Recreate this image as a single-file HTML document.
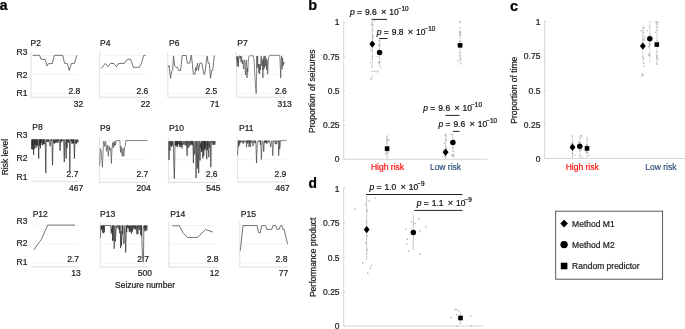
<!DOCTYPE html>
<html><head><meta charset="utf-8"><style>
html,body{margin:0;padding:0;background:#fff;}
svg{display:block;font-family:"Liberation Sans", sans-serif;will-change:transform;}
text{stroke-width:0.22px;}
</style></head><body>
<svg width="685" height="329" viewBox="0 0 685 329">
<rect width="685" height="329" fill="#fff"/>
<text x="-0.20" y="10.30" font-size="14" text-anchor="start" fill="#000" stroke="#000" font-weight="bold">a</text>
<text x="308.20" y="10.30" font-size="14.5" text-anchor="start" fill="#000" stroke="#000" font-weight="bold">b</text>
<text x="509.90" y="10.90" font-size="14.5" text-anchor="start" fill="#000" stroke="#000" font-weight="bold">c</text>
<text x="308.50" y="188.00" font-size="13.8" text-anchor="start" fill="#000" stroke="#000" font-weight="bold">d</text>
<line x1="31.10" y1="93.42" x2="78.70" y2="93.42" stroke="#f1f1f1" stroke-width="0.8"/>
<line x1="31.10" y1="74.50" x2="78.70" y2="74.50" stroke="#f1f1f1" stroke-width="0.8"/>
<line x1="31.10" y1="55.58" x2="78.70" y2="55.58" stroke="#f1f1f1" stroke-width="0.8"/>
<line x1="31.10" y1="51.80" x2="31.10" y2="97.20" stroke="#dcdcdc" stroke-width="0.9"/>
<line x1="31.10" y1="97.20" x2="78.70" y2="97.20" stroke="#d8d8d8" stroke-width="0.9"/>
<text x="30.60" y="45.60" font-size="8.5" text-anchor="start" fill="#1e1e1e" stroke="#1e1e1e">P2</text>
<text x="80.30" y="94.00" font-size="8.5" text-anchor="end" fill="#1e1e1e" stroke="#1e1e1e">2.8</text>
<text x="78.40" y="107.30" font-size="8.5" text-anchor="middle" fill="#1e1e1e" stroke="#1e1e1e">32</text>
<line x1="99.60" y1="93.42" x2="147.70" y2="93.42" stroke="#f1f1f1" stroke-width="0.8"/>
<line x1="99.60" y1="74.50" x2="147.70" y2="74.50" stroke="#f1f1f1" stroke-width="0.8"/>
<line x1="99.60" y1="55.58" x2="147.70" y2="55.58" stroke="#f1f1f1" stroke-width="0.8"/>
<line x1="99.60" y1="51.80" x2="99.60" y2="97.20" stroke="#dcdcdc" stroke-width="0.9"/>
<line x1="99.60" y1="97.20" x2="147.70" y2="97.20" stroke="#d8d8d8" stroke-width="0.9"/>
<text x="100.00" y="45.60" font-size="8.5" text-anchor="start" fill="#1e1e1e" stroke="#1e1e1e">P4</text>
<text x="148.30" y="94.00" font-size="8.5" text-anchor="end" fill="#1e1e1e" stroke="#1e1e1e">2.6</text>
<text x="145.60" y="107.30" font-size="8.5" text-anchor="middle" fill="#1e1e1e" stroke="#1e1e1e">22</text>
<line x1="167.80" y1="93.42" x2="215.90" y2="93.42" stroke="#f1f1f1" stroke-width="0.8"/>
<line x1="167.80" y1="74.50" x2="215.90" y2="74.50" stroke="#f1f1f1" stroke-width="0.8"/>
<line x1="167.80" y1="55.58" x2="215.90" y2="55.58" stroke="#f1f1f1" stroke-width="0.8"/>
<line x1="167.80" y1="51.80" x2="167.80" y2="97.20" stroke="#dcdcdc" stroke-width="0.9"/>
<line x1="167.80" y1="97.20" x2="215.90" y2="97.20" stroke="#d8d8d8" stroke-width="0.9"/>
<text x="169.00" y="45.60" font-size="8.5" text-anchor="start" fill="#1e1e1e" stroke="#1e1e1e">P6</text>
<text x="217.30" y="94.00" font-size="8.5" text-anchor="end" fill="#1e1e1e" stroke="#1e1e1e">2.5</text>
<text x="214.80" y="107.30" font-size="8.5" text-anchor="middle" fill="#1e1e1e" stroke="#1e1e1e">71</text>
<line x1="236.40" y1="93.42" x2="284.90" y2="93.42" stroke="#f1f1f1" stroke-width="0.8"/>
<line x1="236.40" y1="74.50" x2="284.90" y2="74.50" stroke="#f1f1f1" stroke-width="0.8"/>
<line x1="236.40" y1="55.58" x2="284.90" y2="55.58" stroke="#f1f1f1" stroke-width="0.8"/>
<line x1="236.40" y1="51.80" x2="236.40" y2="97.20" stroke="#dcdcdc" stroke-width="0.9"/>
<line x1="236.40" y1="97.20" x2="284.90" y2="97.20" stroke="#d8d8d8" stroke-width="0.9"/>
<text x="237.30" y="45.60" font-size="8.5" text-anchor="start" fill="#1e1e1e" stroke="#1e1e1e">P7</text>
<text x="286.80" y="94.00" font-size="8.5" text-anchor="end" fill="#1e1e1e" stroke="#1e1e1e">2.6</text>
<text x="284.60" y="107.30" font-size="8.5" text-anchor="middle" fill="#1e1e1e" stroke="#1e1e1e">313</text>
<text x="27.40" y="55.14" font-size="8.5" text-anchor="end" fill="#1e1e1e" stroke="#1e1e1e">R3</text>
<text x="27.40" y="77.64" font-size="8.5" text-anchor="end" fill="#1e1e1e" stroke="#1e1e1e">R2</text>
<text x="27.40" y="96.14" font-size="8.5" text-anchor="end" fill="#1e1e1e" stroke="#1e1e1e">R1</text>
<line x1="31.00" y1="177.52" x2="78.70" y2="177.52" stroke="#f1f1f1" stroke-width="0.8"/>
<line x1="31.00" y1="158.60" x2="78.70" y2="158.60" stroke="#f1f1f1" stroke-width="0.8"/>
<line x1="31.00" y1="139.68" x2="78.70" y2="139.68" stroke="#f1f1f1" stroke-width="0.8"/>
<line x1="31.00" y1="181.30" x2="78.70" y2="181.30" stroke="#d8d8d8" stroke-width="0.9"/>
<text x="32.30" y="130.00" font-size="8.5" text-anchor="start" fill="#1e1e1e" stroke="#1e1e1e">P8</text>
<text x="78.40" y="176.70" font-size="8.5" text-anchor="end" fill="#1e1e1e" stroke="#1e1e1e">2.7</text>
<text x="76.10" y="190.70" font-size="8.5" text-anchor="middle" fill="#1e1e1e" stroke="#1e1e1e">467</text>
<line x1="99.40" y1="178.52" x2="148.00" y2="178.52" stroke="#f1f1f1" stroke-width="0.8"/>
<line x1="99.40" y1="159.60" x2="148.00" y2="159.60" stroke="#f1f1f1" stroke-width="0.8"/>
<line x1="99.40" y1="140.68" x2="148.00" y2="140.68" stroke="#f1f1f1" stroke-width="0.8"/>
<line x1="99.40" y1="136.90" x2="99.40" y2="182.30" stroke="#dcdcdc" stroke-width="0.9"/>
<line x1="99.40" y1="182.30" x2="148.00" y2="182.30" stroke="#d8d8d8" stroke-width="0.9"/>
<text x="100.00" y="130.60" font-size="8.5" text-anchor="start" fill="#1e1e1e" stroke="#1e1e1e">P9</text>
<text x="148.30" y="176.70" font-size="8.5" text-anchor="end" fill="#1e1e1e" stroke="#1e1e1e">2.7</text>
<text x="143.60" y="190.70" font-size="8.5" text-anchor="middle" fill="#1e1e1e" stroke="#1e1e1e">204</text>
<line x1="168.40" y1="178.62" x2="216.70" y2="178.62" stroke="#f1f1f1" stroke-width="0.8"/>
<line x1="168.40" y1="159.70" x2="216.70" y2="159.70" stroke="#f1f1f1" stroke-width="0.8"/>
<line x1="168.40" y1="140.78" x2="216.70" y2="140.78" stroke="#f1f1f1" stroke-width="0.8"/>
<line x1="168.40" y1="137.00" x2="168.40" y2="182.40" stroke="#dcdcdc" stroke-width="0.9"/>
<line x1="168.40" y1="182.40" x2="216.70" y2="182.40" stroke="#d8d8d8" stroke-width="0.9"/>
<text x="168.90" y="130.50" font-size="8.5" text-anchor="start" fill="#1e1e1e" stroke="#1e1e1e">P10</text>
<text x="217.50" y="176.70" font-size="8.5" text-anchor="end" fill="#1e1e1e" stroke="#1e1e1e">2.6</text>
<text x="213.30" y="190.70" font-size="8.5" text-anchor="middle" fill="#1e1e1e" stroke="#1e1e1e">545</text>
<line x1="237.60" y1="178.12" x2="285.90" y2="178.12" stroke="#f1f1f1" stroke-width="0.8"/>
<line x1="237.60" y1="159.20" x2="285.90" y2="159.20" stroke="#f1f1f1" stroke-width="0.8"/>
<line x1="237.60" y1="140.28" x2="285.90" y2="140.28" stroke="#f1f1f1" stroke-width="0.8"/>
<line x1="237.60" y1="136.50" x2="237.60" y2="181.90" stroke="#dcdcdc" stroke-width="0.9"/>
<line x1="237.60" y1="181.90" x2="285.90" y2="181.90" stroke="#d8d8d8" stroke-width="0.9"/>
<text x="239.00" y="130.70" font-size="8.5" text-anchor="start" fill="#1e1e1e" stroke="#1e1e1e">P11</text>
<text x="286.30" y="176.70" font-size="8.5" text-anchor="end" fill="#1e1e1e" stroke="#1e1e1e">2.9</text>
<text x="282.70" y="190.70" font-size="8.5" text-anchor="middle" fill="#1e1e1e" stroke="#1e1e1e">467</text>
<text x="27.40" y="138.44" font-size="8.5" text-anchor="end" fill="#1e1e1e" stroke="#1e1e1e">R3</text>
<text x="27.40" y="160.74" font-size="8.5" text-anchor="end" fill="#1e1e1e" stroke="#1e1e1e">R2</text>
<text x="27.40" y="179.94" font-size="8.5" text-anchor="end" fill="#1e1e1e" stroke="#1e1e1e">R1</text>
<line x1="31.00" y1="263.02" x2="78.70" y2="263.02" stroke="#f1f1f1" stroke-width="0.8"/>
<line x1="31.00" y1="244.10" x2="78.70" y2="244.10" stroke="#f1f1f1" stroke-width="0.8"/>
<line x1="31.00" y1="225.18" x2="78.70" y2="225.18" stroke="#f1f1f1" stroke-width="0.8"/>
<line x1="31.00" y1="266.80" x2="78.70" y2="266.80" stroke="#d8d8d8" stroke-width="0.9"/>
<text x="32.70" y="216.60" font-size="8.5" text-anchor="start" fill="#1e1e1e" stroke="#1e1e1e">P12</text>
<text x="79.00" y="262.10" font-size="8.5" text-anchor="end" fill="#1e1e1e" stroke="#1e1e1e">2.7</text>
<text x="75.90" y="276.10" font-size="8.5" text-anchor="middle" fill="#1e1e1e" stroke="#1e1e1e">13</text>
<line x1="100.30" y1="263.22" x2="148.70" y2="263.22" stroke="#f1f1f1" stroke-width="0.8"/>
<line x1="100.30" y1="244.30" x2="148.70" y2="244.30" stroke="#f1f1f1" stroke-width="0.8"/>
<line x1="100.30" y1="225.38" x2="148.70" y2="225.38" stroke="#f1f1f1" stroke-width="0.8"/>
<line x1="100.30" y1="221.60" x2="100.30" y2="267.00" stroke="#dcdcdc" stroke-width="0.9"/>
<line x1="100.30" y1="267.00" x2="148.70" y2="267.00" stroke="#d8d8d8" stroke-width="0.9"/>
<text x="100.10" y="216.60" font-size="8.5" text-anchor="start" fill="#1e1e1e" stroke="#1e1e1e">P13</text>
<text x="149.10" y="262.10" font-size="8.5" text-anchor="end" fill="#1e1e1e" stroke="#1e1e1e">2.7</text>
<text x="144.90" y="276.10" font-size="8.5" text-anchor="middle" fill="#1e1e1e" stroke="#1e1e1e">500</text>
<line x1="168.80" y1="263.32" x2="216.70" y2="263.32" stroke="#f1f1f1" stroke-width="0.8"/>
<line x1="168.80" y1="244.40" x2="216.70" y2="244.40" stroke="#f1f1f1" stroke-width="0.8"/>
<line x1="168.80" y1="225.48" x2="216.70" y2="225.48" stroke="#f1f1f1" stroke-width="0.8"/>
<line x1="168.80" y1="221.70" x2="168.80" y2="267.10" stroke="#dcdcdc" stroke-width="0.9"/>
<line x1="168.80" y1="267.10" x2="216.70" y2="267.10" stroke="#d8d8d8" stroke-width="0.9"/>
<text x="170.20" y="216.60" font-size="8.5" text-anchor="start" fill="#1e1e1e" stroke="#1e1e1e">P14</text>
<text x="218.60" y="262.10" font-size="8.5" text-anchor="end" fill="#1e1e1e" stroke="#1e1e1e">2.8</text>
<text x="214.40" y="276.10" font-size="8.5" text-anchor="middle" fill="#1e1e1e" stroke="#1e1e1e">12</text>
<line x1="239.80" y1="263.12" x2="287.80" y2="263.12" stroke="#f1f1f1" stroke-width="0.8"/>
<line x1="239.80" y1="244.20" x2="287.80" y2="244.20" stroke="#f1f1f1" stroke-width="0.8"/>
<line x1="239.80" y1="225.28" x2="287.80" y2="225.28" stroke="#f1f1f1" stroke-width="0.8"/>
<line x1="239.80" y1="221.50" x2="239.80" y2="266.90" stroke="#dcdcdc" stroke-width="0.9"/>
<line x1="239.80" y1="266.90" x2="287.80" y2="266.90" stroke="#d8d8d8" stroke-width="0.9"/>
<text x="240.80" y="216.60" font-size="8.5" text-anchor="start" fill="#1e1e1e" stroke="#1e1e1e">P15</text>
<text x="287.40" y="262.10" font-size="8.5" text-anchor="end" fill="#1e1e1e" stroke="#1e1e1e">2.8</text>
<text x="283.50" y="276.10" font-size="8.5" text-anchor="middle" fill="#1e1e1e" stroke="#1e1e1e">77</text>
<text x="27.40" y="223.94" font-size="8.5" text-anchor="end" fill="#1e1e1e" stroke="#1e1e1e">R3</text>
<text x="27.40" y="246.34" font-size="8.5" text-anchor="end" fill="#1e1e1e" stroke="#1e1e1e">R2</text>
<text x="27.40" y="265.34" font-size="8.5" text-anchor="end" fill="#1e1e1e" stroke="#1e1e1e">R1</text>
<text x="145.00" y="288.20" font-size="8.5" text-anchor="middle" fill="#1e1e1e" stroke="#1e1e1e">Seizure number</text>
<text x="0" y="0" font-size="8.5" fill="#1e1e1e" stroke="#1e1e1e" text-anchor="middle" transform="translate(7.8,157.1) rotate(-90)">Risk level</text>
<polyline points="32.70,55.30 39.50,55.30 41.00,59.10 45.20,59.50 47.10,66.00 48.30,63.70 52.40,63.50 54.30,55.30 62.70,55.30 64.60,63.30 67.30,63.50 69.20,70.50 71.40,63.50 74.50,63.30 76.80,55.30" fill="none" stroke="#5a5a5a" stroke-width="0.85" stroke-linejoin="round"/>
<polyline points="101.40,68.30 105.20,63.50 107.90,66.60 110.20,63.50 114.00,63.50 116.60,66.90 118.50,63.50 124.60,63.30 127.30,59.30 130.70,59.30 133.40,67.30 139.40,67.30 141.70,62.50 143.60,55.50 145.50,55.30" fill="none" stroke="#5a5a5a" stroke-width="0.85" stroke-linejoin="round"/>
<polyline points="168.00,67.30 169.20,65.50 170.60,78.30 171.50,71.40 172.60,70.50 173.50,55.90 174.70,66.00 175.60,66.90 177.40,67.30 178.80,70.50 180.60,70.50 182.20,55.50 186.10,55.50 187.40,63.20 189.70,63.20 191.40,55.00 193.40,74.20 195.00,74.20 195.70,67.30 196.30,70.50 197.50,63.20 198.40,70.50 199.80,63.20 201.80,63.20 203.90,74.20 204.80,74.20 206.10,63.20 207.20,55.90 208.20,63.20 209.30,63.20 210.50,78.30 211.60,70.50 212.70,70.50 214.40,55.50" fill="none" stroke="#5a5a5a" stroke-width="0.85" stroke-linejoin="round"/>
<polyline points="34.10,249.90 37.00,245.30 41.40,239.40 47.70,225.10 75.00,225.10" fill="none" stroke="#5a5a5a" stroke-width="0.85" stroke-linejoin="round"/>
<polyline points="172.30,225.80 179.30,225.80 182.90,232.70 187.30,237.40 197.70,237.40 205.60,229.40 212.80,232.10" fill="none" stroke="#5a5a5a" stroke-width="0.85" stroke-linejoin="round"/>
<polyline points="240.30,250.70 243.00,225.60 257.20,225.60 258.60,232.70 260.20,233.00 261.60,225.60 265.60,225.60 266.70,229.40 271.80,229.40 272.90,225.60 275.80,225.60 277.20,229.40 279.10,229.40 280.50,225.60 281.80,225.60 282.90,229.40 284.20,229.40 287.50,244.10" fill="none" stroke="#5a5a5a" stroke-width="0.85" stroke-linejoin="round"/>
<polyline points="236.70,60.00 236.90,56.00 237.20,66.50 237.50,56.50 237.80,63.00 238.10,58.00 238.50,66.90 238.80,56.00 239.60,56.00 240.00,58.50 240.50,56.00 241.10,62.20 241.60,56.50 242.30,64.00 242.80,60.00 243.50,69.00 244.10,62.00 244.70,59.70 245.20,72.00 245.60,75.00 246.00,63.00 246.50,60.00 247.00,78.00 247.40,68.00 247.80,72.40 248.30,61.00 248.80,57.00 249.40,55.80 253.30,55.80 253.90,58.50 254.40,66.00 254.90,76.00 255.40,84.00 255.90,90.00 256.20,93.60 256.50,78.00 256.80,56.00 257.20,68.00 257.60,56.00 258.00,66.00 258.40,64.00 258.80,73.00 259.20,65.00 259.60,74.00 260.00,64.00 260.40,70.00 260.80,58.00 261.30,56.00 261.80,66.00 262.30,60.00 262.90,78.00 263.30,58.00 263.70,70.00 264.10,56.00 264.60,68.00 265.10,56.00 265.60,66.00 266.10,58.00 266.60,70.00 267.10,60.00 267.70,74.00 268.20,60.00 268.80,57.00 269.70,55.30 279.70,55.30 280.10,62.00 280.70,78.00 281.20,62.00 281.60,56.00 282.10,69.40 282.60,58.00 283.10,66.00 283.70,62.00 284.10,64.00" fill="none" stroke="#444" stroke-width="0.65" stroke-linejoin="round"/>
<polyline points="31.40,139.45 31.40,139.56 31.80,149.00 32.23,139.53 32.33,149.55 32.59,139.47 32.68,142.46 32.84,144.83 33.05,139.59 33.19,139.31 33.60,154.80 33.91,139.64 34.21,148.97 34.29,141.27 34.46,139.62 34.61,139.59 34.85,145.68 34.90,139.32 34.93,142.76 35.29,144.16 35.36,139.32 35.63,139.57 36.00,148.00 36.32,139.64 36.39,139.31 36.65,142.98 36.73,145.53 37.10,139.35 37.15,139.52 37.54,141.17 37.56,145.90 37.84,139.64 38.04,139.58 38.26,145.56 38.70,158.50 39.24,139.50 39.34,141.35 39.61,145.56 39.83,139.64 39.86,139.32 40.19,141.24 40.30,139.46 40.31,148.33 40.61,139.66 40.63,139.46 40.81,144.89 40.97,143.92 41.07,142.28 41.22,139.39 41.44,139.31 41.57,142.65 41.75,142.18 41.93,139.36 42.21,139.47 42.43,145.27 42.67,142.42 42.99,139.45 43.16,139.56 43.46,144.37 43.52,141.22 43.81,139.32 43.91,139.33 44.30,143.42 44.51,144.15 44.76,139.34 45.20,141.18 45.80,173.10 46.15,142.63 46.53,139.64 47.04,141.53 47.43,139.59 47.87,142.03 48.26,139.69 48.60,141.43 49.05,139.41 49.54,141.78 50.00,146.30 50.54,143.05 50.99,139.39 51.31,140.89 51.64,139.57 51.93,141.51 52.50,165.20 53.15,139.35 53.67,142.60 54.12,139.52 54.52,143.71 55.01,139.63 55.30,142.57 55.81,139.56 56.21,142.75 56.53,139.59 57.00,141.02 57.40,139.54 57.77,142.85 58.27,139.66 58.62,141.26 59.11,139.54 59.59,143.41 60.10,150.60 60.73,139.40 61.13,142.58 61.47,139.37 61.86,141.02 62.26,139.68 62.74,140.96 63.22,139.59 63.67,140.88 64.30,162.10 64.60,141.77 64.97,139.37 65.46,141.47 66.20,158.50 66.67,139.31 67.10,148.20 67.43,139.61 67.89,141.96 68.21,139.51 68.63,142.87 69.03,139.53 69.49,141.37 69.80,171.20 70.27,143.21 70.75,139.48 71.21,141.12 71.58,139.33 72.06,143.80 72.50,139.60 72.87,143.18 73.17,139.45 73.53,143.39 73.86,139.36 74.40,158.50 74.87,143.31 75.19,139.66 75.71,143.44 76.15,139.66 76.65,143.69 77.00,139.64 77.47,141.84 77.79,139.66 78.18,142.39" fill="none" stroke="#2a2a2a" stroke-width="0.7" stroke-linejoin="round"/>
<polyline points="99.60,165.60 100.40,148.60 101.20,151.30 102.40,167.20 103.50,141.50 104.00,141.50 104.60,146.40 105.10,141.50 105.70,141.50 106.50,151.30 107.30,145.00 108.40,156.30 109.00,146.00 109.80,150.20 110.60,148.00 111.40,163.40 112.00,148.00 112.80,142.60 113.30,148.00 113.90,141.50 114.40,146.00 115.00,141.50 115.50,145.00 116.10,141.50 116.60,140.60 119.90,140.60 120.50,152.40 121.00,146.00 121.60,152.40 122.30,156.30 123.00,148.00 123.80,156.30 124.50,148.00 125.40,144.80 125.90,140.60 147.40,140.60" fill="none" stroke="#444" stroke-width="0.65" stroke-linejoin="round"/>
<polyline points="168.60,141.10 168.60,141.39 169.00,159.80 169.46,141.38 169.70,141.09 169.93,150.89 170.21,144.78 170.33,141.40 170.68,141.39 170.81,145.37 171.25,143.64 171.26,141.25 171.62,146.90 171.79,141.23 171.97,141.03 172.25,144.99 172.37,145.73 172.72,141.39 172.81,141.31 173.33,142.09 173.90,167.80 174.30,178.60 174.60,170.00 175.00,141.25 175.00,141.39 175.41,145.61 175.47,144.78 175.82,141.31 175.86,145.47 176.05,141.08 176.34,145.31 176.62,143.31 176.65,141.37 176.67,141.15 176.97,146.54 177.23,141.19 177.36,146.96 177.49,141.08 177.85,144.96 177.95,144.16 178.16,141.34 178.44,141.33 178.45,141.22 178.66,143.91 178.82,143.17 179.04,143.78 179.14,141.36 179.44,141.39 179.47,146.38 179.57,141.30 179.88,141.18 179.93,142.05 180.17,147.01 180.33,143.69 180.41,141.17 180.73,141.14 180.77,141.03 180.82,144.88 181.10,146.71 181.21,141.36 181.41,144.24 181.43,141.05 182.00,148.40 182.53,143.00 182.56,144.29 182.72,144.72 182.95,141.00 183.11,141.39 183.48,141.39 183.71,144.36 184.00,144.50 184.36,141.37 184.53,141.27 184.90,143.62 185.19,145.37 185.41,141.33 185.78,141.31 186.04,144.49 186.59,145.42 186.64,141.01 187.10,155.80 187.43,141.09 187.64,141.23 188.06,148.17 188.16,144.57 188.57,141.29 188.65,141.06 189.10,142.64 189.15,146.63 189.74,141.02 189.99,141.02 190.23,143.61 190.68,145.14 190.76,141.39 191.28,144.66 191.30,141.09 191.72,141.19 191.96,143.76 192.00,141.04 192.11,143.92 192.51,145.20 192.59,141.31 192.83,141.08 192.97,141.34 192.97,143.39 193.40,163.10 193.79,141.29 194.16,144.03 194.30,149.30 194.70,154.40 195.09,149.75 195.22,144.88 195.47,141.21 195.66,141.28 196.00,177.90 196.64,148.56 196.70,141.01 197.40,168.50 197.87,141.39 197.92,141.08 198.38,147.28 198.70,173.20 199.04,151.47 199.06,141.15 199.39,141.14 199.51,143.71 200.00,160.50 200.57,143.23 200.62,147.52 200.97,141.05 201.14,141.13 201.40,141.37 201.60,152.12 201.67,142.02 201.84,141.38 202.06,141.35 202.08,150.91 202.34,141.15 202.70,158.40 203.26,152.04 203.29,142.15 203.52,141.22 203.72,141.37 203.77,156.24 203.99,141.06 204.30,142.01 204.31,148.87 204.53,141.18 204.84,150.14 204.94,141.03 205.02,141.11 205.23,146.23 205.43,143.60 205.53,141.29 205.73,148.67 206.02,141.06 206.05,141.28 206.29,152.37 206.80,159.10 207.13,141.09 207.19,141.37 207.36,150.33 207.60,141.36 207.71,142.01 207.83,146.21 208.13,141.37 208.26,141.17 208.43,149.24 208.80,157.10 209.21,141.23 209.34,147.76 209.76,144.78 210.29,141.25 210.80,167.20 211.48,141.23 212.02,142.46 212.53,141.16 212.94,144.82 213.54,141.18 213.92,144.95 214.30,141.20 214.82,144.57 215.37,141.24" fill="none" stroke="#2a2a2a" stroke-width="0.66" stroke-linejoin="round"/>
<polyline points="237.60,155.20 237.90,148.00 238.30,140.70 238.30,140.87 238.66,146.90 238.92,143.73 239.04,140.69 239.46,140.63 239.60,144.75 240.05,140.56 240.13,142.76 240.67,140.66 241.21,141.80 241.86,140.86 242.53,143.20 243.07,140.67 243.54,143.49 244.07,140.62 244.84,142.32 245.61,140.75 246.00,140.68 246.31,143.18 246.53,147.14 246.79,140.79 247.12,140.53 247.31,142.52 247.77,140.52 247.81,143.80 248.30,140.53 248.33,141.34 248.88,140.84 248.95,146.87 249.59,140.59 249.66,142.57 250.12,140.64 250.31,146.99 250.57,141.95 250.85,140.61 251.21,140.75 251.64,142.76 252.21,140.66 252.90,146.10 253.79,143.19 253.80,140.69 254.23,142.51 254.36,140.88 254.73,140.51 254.91,141.91 255.25,143.26 255.47,140.87 255.94,143.59 256.50,163.00 257.29,142.65 258.02,140.78 258.73,141.83 259.37,140.80 259.88,141.92 260.00,140.53 260.38,144.83 260.60,140.73 260.77,140.60 261.40,159.40 262.14,142.51 262.61,140.86 263.37,143.07 263.70,151.60 264.30,142.41 264.34,140.71 264.75,142.45 264.77,140.70 265.18,140.86 265.22,142.14 265.48,143.07 265.72,140.69 265.82,140.76 266.25,141.63 266.48,143.04 266.56,140.71 267.04,143.73 267.18,140.79 267.79,141.50 268.23,140.55 268.84,142.32 269.59,140.58 270.06,143.22 270.60,147.00 271.24,142.63 271.96,140.81 272.80,155.70 273.45,140.69 273.97,141.72 274.69,140.76 275.33,144.23 275.98,140.62 276.65,144.08 277.14,140.88 277.71,141.64 278.20,140.53 278.31,140.81 278.70,155.70 279.25,140.88 279.60,140.54 279.73,149.09 280.26,142.39 280.36,140.58 280.90,140.70 282.14,140.68 283.36,140.54 284.64,140.52 285.97,140.71 286.40,140.50" fill="none" stroke="#333" stroke-width="0.62" stroke-linejoin="round"/>
<polyline points="100.40,237.80 101.01,225.73 101.40,229.85 101.64,225.42 101.89,228.53 102.22,225.55 102.58,232.58 102.85,225.47 103.13,228.57 103.45,225.48 103.69,233.29 103.98,225.78 104.36,232.05 104.50,225.43 107.67,225.60 110.39,225.62 110.50,225.51 111.20,233.50 111.84,228.73 111.85,231.65 112.12,225.52 112.21,225.44 112.55,240.67 112.59,229.91 112.87,225.58 112.91,225.54 113.21,240.57 113.34,228.89 113.55,225.53 113.77,225.74 114.20,248.70 114.67,235.22 114.71,225.75 115.12,225.57 115.26,228.49 115.42,241.35 116.00,231.10 116.36,227.43 116.73,225.72 117.12,227.63 117.45,225.70 117.83,227.17 118.31,225.43 118.50,225.58 118.84,226.77 118.84,229.73 119.24,225.67 119.41,225.45 119.63,233.18 119.77,228.48 120.02,225.75 120.29,225.59 120.60,248.10 121.10,231.41 121.50,245.70 122.07,225.41 122.19,225.42 122.52,233.98 122.70,226.80 122.86,225.67 123.12,225.54 123.13,236.42 123.60,243.90 124.20,243.00 124.60,227.75 125.02,225.50 125.70,252.50 126.50,225.73 126.53,230.44 126.80,232.02 126.99,225.62 127.26,225.50 127.32,227.38 127.64,227.57 127.65,225.44 127.96,225.66 128.16,227.29 128.42,228.34 128.66,225.71 128.87,225.55 129.09,229.46 129.28,231.57 129.57,225.65 129.62,225.47 130.00,232.29 130.04,229.30 130.38,225.74 130.40,225.80 130.70,231.17 130.77,227.00 131.15,225.73 131.18,225.55 131.60,233.60 132.08,225.55 132.25,231.77 132.59,225.77 132.60,226.89 132.91,229.90 133.02,225.63 133.41,227.75 133.85,225.45 134.41,228.52 134.77,225.60 135.18,229.26 135.50,225.46 135.52,225.55 135.85,229.08 135.86,229.54 136.20,225.68 136.30,225.72 136.52,230.86 136.90,234.20 137.25,230.56 137.27,225.53 137.62,225.73 137.73,228.14 137.99,234.12 138.16,225.57 138.48,227.30 138.95,225.45 139.36,230.04 139.81,225.71 140.21,226.40 140.30,225.55 140.65,225.70 140.74,234.60 141.05,225.57 141.09,228.02 141.35,236.22 141.64,225.55 141.77,225.60 142.03,244.95 142.40,255.00 143.00,261.00 143.50,258.00 143.90,225.72 144.08,229.09 144.21,229.08 144.61,225.70 144.63,225.45 144.98,231.31 145.08,228.79 145.35,225.46 145.46,225.44 145.73,230.90 145.91,228.63 146.15,225.41 146.32,225.60 146.60,228.61 146.87,230.28 147.43,225.45" fill="none" stroke="#2a2a2a" stroke-width="0.66" stroke-linejoin="round"/>
<line x1="343.70" y1="21.10" x2="343.70" y2="159.30" stroke="#d2d2d2" stroke-width="0.9"/>
<line x1="343.70" y1="159.30" x2="487.60" y2="159.30" stroke="#d2d2d2" stroke-width="0.9"/>
<line x1="343.70" y1="22.30" x2="345.30" y2="22.30" stroke="#c8c8c8" stroke-width="0.8"/>
<text x="339.60" y="25.34" font-size="8.5" text-anchor="end" fill="#1e1e1e" stroke="#1e1e1e">1</text>
<line x1="343.70" y1="56.80" x2="345.30" y2="56.80" stroke="#c8c8c8" stroke-width="0.8"/>
<text x="339.60" y="59.84" font-size="8.5" text-anchor="end" fill="#1e1e1e" stroke="#1e1e1e">0.75</text>
<line x1="343.70" y1="90.70" x2="345.30" y2="90.70" stroke="#c8c8c8" stroke-width="0.8"/>
<text x="339.60" y="93.74" font-size="8.5" text-anchor="end" fill="#1e1e1e" stroke="#1e1e1e">0.5</text>
<line x1="343.70" y1="125.40" x2="345.30" y2="125.40" stroke="#c8c8c8" stroke-width="0.8"/>
<text x="339.60" y="128.44" font-size="8.5" text-anchor="end" fill="#1e1e1e" stroke="#1e1e1e">0.25</text>
<line x1="343.70" y1="159.30" x2="345.30" y2="159.30" stroke="#c8c8c8" stroke-width="0.8"/>
<text x="339.60" y="162.34" font-size="8.5" text-anchor="end" fill="#1e1e1e" stroke="#1e1e1e">0</text>
<text x="0" y="0" font-size="8.6" fill="#1e1e1e" stroke="#1e1e1e" text-anchor="middle" transform="translate(315.4,91.3) rotate(-90)">Proportion of seizures</text>
<text x="387.50" y="170.40" font-size="8.5" text-anchor="middle" fill="#ff1414" stroke="#ff1414">High risk</text>
<text x="445.50" y="170.40" font-size="8.5" text-anchor="middle" fill="#36557f" stroke="#36557f">Low risk</text>
<line x1="372.30" y1="19.50" x2="372.30" y2="67.00" stroke="#cdcdcd" stroke-width="0.9"/>
<line x1="379.60" y1="38.30" x2="379.60" y2="66.00" stroke="#cdcdcd" stroke-width="0.9"/>
<line x1="387.10" y1="134.70" x2="387.10" y2="157.00" stroke="#cdcdcd" stroke-width="0.9"/>
<line x1="445.60" y1="133.00" x2="445.60" y2="159.00" stroke="#cdcdcd" stroke-width="0.9"/>
<line x1="452.90" y1="134.00" x2="452.90" y2="152.00" stroke="#cdcdcd" stroke-width="0.9"/>
<line x1="460.10" y1="29.60" x2="460.10" y2="63.40" stroke="#cdcdcd" stroke-width="0.9"/>
<rect x="371.61" y="75.85" width="1.2" height="1.2" fill="#b0b0b0"/>
<rect x="371.64" y="55.64" width="1.2" height="1.2" fill="#b0b0b0"/>
<rect x="371.13" y="58.19" width="1.2" height="1.2" fill="#b0b0b0"/>
<rect x="372.23" y="38.60" width="1.2" height="1.2" fill="#b0b0b0"/>
<rect x="369.74" y="62.01" width="1.2" height="1.2" fill="#b0b0b0"/>
<rect x="369.50" y="78.29" width="1.2" height="1.2" fill="#b0b0b0"/>
<rect x="371.98" y="29.85" width="1.2" height="1.2" fill="#b0b0b0"/>
<rect x="370.83" y="23.97" width="1.2" height="1.2" fill="#b0b0b0"/>
<rect x="371.14" y="22.20" width="1.2" height="1.2" fill="#b0b0b0"/>
<rect x="371.64" y="70.95" width="1.2" height="1.2" fill="#b0b0b0"/>
<rect x="371.73" y="50.39" width="1.2" height="1.2" fill="#b0b0b0"/>
<rect x="371.99" y="37.09" width="1.2" height="1.2" fill="#b0b0b0"/>
<rect x="374.09" y="70.81" width="1.2" height="1.2" fill="#b0b0b0"/>
<rect x="372.07" y="34.18" width="1.2" height="1.2" fill="#b0b0b0"/>
<rect x="371.32" y="66.38" width="1.2" height="1.2" fill="#b0b0b0"/>
<rect x="371.22" y="43.59" width="1.2" height="1.2" fill="#b0b0b0"/>
<rect x="373.90" y="20.43" width="1.2" height="1.2" fill="#b0b0b0"/>
<rect x="370.31" y="48.60" width="1.2" height="1.2" fill="#b0b0b0"/>
<rect x="372.56" y="24.78" width="1.2" height="1.2" fill="#b0b0b0"/>
<rect x="372.32" y="36.59" width="1.2" height="1.2" fill="#b0b0b0"/>
<rect x="370.96" y="78.24" width="1.2" height="1.2" fill="#b0b0b0"/>
<rect x="372.16" y="35.18" width="1.2" height="1.2" fill="#b0b0b0"/>
<rect x="378.95" y="61.39" width="1.2" height="1.2" fill="#b0b0b0"/>
<rect x="378.36" y="51.77" width="1.2" height="1.2" fill="#b0b0b0"/>
<rect x="377.92" y="62.19" width="1.2" height="1.2" fill="#b0b0b0"/>
<rect x="379.18" y="61.22" width="1.2" height="1.2" fill="#b0b0b0"/>
<rect x="378.36" y="44.75" width="1.2" height="1.2" fill="#b0b0b0"/>
<rect x="379.73" y="66.42" width="1.2" height="1.2" fill="#b0b0b0"/>
<rect x="378.23" y="50.52" width="1.2" height="1.2" fill="#b0b0b0"/>
<rect x="378.54" y="40.01" width="1.2" height="1.2" fill="#b0b0b0"/>
<rect x="376.89" y="56.19" width="1.2" height="1.2" fill="#b0b0b0"/>
<rect x="377.04" y="70.64" width="1.2" height="1.2" fill="#b0b0b0"/>
<rect x="378.30" y="43.86" width="1.2" height="1.2" fill="#b0b0b0"/>
<rect x="378.66" y="44.80" width="1.2" height="1.2" fill="#b0b0b0"/>
<rect x="379.35" y="45.05" width="1.2" height="1.2" fill="#b0b0b0"/>
<rect x="379.57" y="53.22" width="1.2" height="1.2" fill="#b0b0b0"/>
<rect x="379.17" y="52.09" width="1.2" height="1.2" fill="#b0b0b0"/>
<rect x="376.75" y="71.33" width="1.2" height="1.2" fill="#b0b0b0"/>
<rect x="379.86" y="51.16" width="1.2" height="1.2" fill="#b0b0b0"/>
<rect x="378.75" y="61.63" width="1.2" height="1.2" fill="#b0b0b0"/>
<rect x="386.07" y="149.82" width="1.2" height="1.2" fill="#b0b0b0"/>
<rect x="387.13" y="138.93" width="1.2" height="1.2" fill="#b0b0b0"/>
<rect x="385.86" y="151.02" width="1.2" height="1.2" fill="#b0b0b0"/>
<rect x="385.83" y="138.53" width="1.2" height="1.2" fill="#b0b0b0"/>
<rect x="386.13" y="153.50" width="1.2" height="1.2" fill="#b0b0b0"/>
<rect x="386.70" y="140.02" width="1.2" height="1.2" fill="#b0b0b0"/>
<rect x="384.80" y="152.83" width="1.2" height="1.2" fill="#b0b0b0"/>
<rect x="387.97" y="151.27" width="1.2" height="1.2" fill="#b0b0b0"/>
<rect x="388.66" y="139.56" width="1.2" height="1.2" fill="#b0b0b0"/>
<rect x="387.13" y="151.52" width="1.2" height="1.2" fill="#b0b0b0"/>
<rect x="386.62" y="142.14" width="1.2" height="1.2" fill="#b0b0b0"/>
<rect x="386.37" y="136.22" width="1.2" height="1.2" fill="#b0b0b0"/>
<rect x="443.11" y="149.35" width="1.2" height="1.2" fill="#b0b0b0"/>
<rect x="445.79" y="139.05" width="1.2" height="1.2" fill="#b0b0b0"/>
<rect x="445.42" y="140.28" width="1.2" height="1.2" fill="#b0b0b0"/>
<rect x="445.33" y="152.62" width="1.2" height="1.2" fill="#b0b0b0"/>
<rect x="444.31" y="155.84" width="1.2" height="1.2" fill="#b0b0b0"/>
<rect x="444.74" y="153.31" width="1.2" height="1.2" fill="#b0b0b0"/>
<rect x="445.24" y="146.73" width="1.2" height="1.2" fill="#b0b0b0"/>
<rect x="445.30" y="149.34" width="1.2" height="1.2" fill="#b0b0b0"/>
<rect x="444.32" y="134.56" width="1.2" height="1.2" fill="#b0b0b0"/>
<rect x="443.58" y="142.90" width="1.2" height="1.2" fill="#b0b0b0"/>
<rect x="445.88" y="148.20" width="1.2" height="1.2" fill="#b0b0b0"/>
<rect x="445.67" y="135.30" width="1.2" height="1.2" fill="#b0b0b0"/>
<rect x="453.14" y="151.06" width="1.2" height="1.2" fill="#b0b0b0"/>
<rect x="450.66" y="133.81" width="1.2" height="1.2" fill="#b0b0b0"/>
<rect x="452.98" y="153.98" width="1.2" height="1.2" fill="#b0b0b0"/>
<rect x="453.20" y="141.51" width="1.2" height="1.2" fill="#b0b0b0"/>
<rect x="452.67" y="139.72" width="1.2" height="1.2" fill="#b0b0b0"/>
<rect x="451.00" y="154.39" width="1.2" height="1.2" fill="#b0b0b0"/>
<rect x="452.84" y="155.60" width="1.2" height="1.2" fill="#b0b0b0"/>
<rect x="452.32" y="144.33" width="1.2" height="1.2" fill="#b0b0b0"/>
<rect x="452.16" y="146.95" width="1.2" height="1.2" fill="#b0b0b0"/>
<rect x="452.05" y="155.73" width="1.2" height="1.2" fill="#b0b0b0"/>
<rect x="452.56" y="154.13" width="1.2" height="1.2" fill="#b0b0b0"/>
<rect x="453.19" y="156.08" width="1.2" height="1.2" fill="#b0b0b0"/>
<rect x="459.25" y="40.41" width="1.2" height="1.2" fill="#b0b0b0"/>
<rect x="459.40" y="51.97" width="1.2" height="1.2" fill="#b0b0b0"/>
<rect x="459.07" y="20.89" width="1.2" height="1.2" fill="#b0b0b0"/>
<rect x="459.14" y="27.21" width="1.2" height="1.2" fill="#b0b0b0"/>
<rect x="459.94" y="58.28" width="1.2" height="1.2" fill="#b0b0b0"/>
<rect x="460.32" y="63.29" width="1.2" height="1.2" fill="#b0b0b0"/>
<rect x="460.05" y="21.71" width="1.2" height="1.2" fill="#b0b0b0"/>
<rect x="459.42" y="34.62" width="1.2" height="1.2" fill="#b0b0b0"/>
<rect x="459.00" y="32.80" width="1.2" height="1.2" fill="#b0b0b0"/>
<rect x="460.02" y="40.71" width="1.2" height="1.2" fill="#b0b0b0"/>
<rect x="460.19" y="34.47" width="1.2" height="1.2" fill="#b0b0b0"/>
<rect x="457.31" y="60.36" width="1.2" height="1.2" fill="#b0b0b0"/>
<rect x="460.02" y="31.67" width="1.2" height="1.2" fill="#b0b0b0"/>
<rect x="458.88" y="42.52" width="1.2" height="1.2" fill="#b0b0b0"/>
<rect x="458.72" y="55.34" width="1.2" height="1.2" fill="#b0b0b0"/>
<rect x="457.16" y="43.99" width="1.2" height="1.2" fill="#b0b0b0"/>
<rect x="460.25" y="58.60" width="1.2" height="1.2" fill="#b0b0b0"/>
<rect x="459.42" y="44.36" width="1.2" height="1.2" fill="#b0b0b0"/>
<rect x="458.64" y="31.55" width="1.2" height="1.2" fill="#b0b0b0"/>
<rect x="459.33" y="46.28" width="1.2" height="1.2" fill="#b0b0b0"/>
<line x1="387.60" y1="157.20" x2="387.60" y2="159.30" stroke="#bbb" stroke-width="0.8"/>
<line x1="445.40" y1="157.20" x2="445.40" y2="159.30" stroke="#bbb" stroke-width="0.8"/>
<line x1="371.60" y1="19.40" x2="387.10" y2="19.40" stroke="#222" stroke-width="1.0"/>
<line x1="379.20" y1="38.50" x2="387.50" y2="38.50" stroke="#222" stroke-width="1.0"/>
<line x1="445.40" y1="115.40" x2="459.50" y2="115.40" stroke="#222" stroke-width="1.0"/>
<line x1="452.90" y1="131.40" x2="459.50" y2="131.40" stroke="#222" stroke-width="1.0"/>
<text x="349.90" y="14.60" font-size="8.5" text-anchor="start" fill="#111" stroke="#111" font-style="italic">p</text>
<text x="356.90" y="14.60" font-size="8.5" text-anchor="start" fill="#111" stroke="#111">=</text>
<text x="364.90" y="14.60" font-size="8.5" text-anchor="start" fill="#111" stroke="#111">9.6</text>
<text x="380.90" y="14.60" font-size="9.3" text-anchor="start" fill="#111" stroke="#111">×</text>
<text x="389.20" y="14.60" font-size="8.5" text-anchor="start" fill="#111" stroke="#111">10</text>
<text x="397.70" y="10.90" font-size="6.4" text-anchor="start" fill="#111" stroke="#111">−10</text>
<text x="376.70" y="34.50" font-size="8.5" text-anchor="start" fill="#111" stroke="#111" font-style="italic">p</text>
<text x="383.70" y="34.50" font-size="8.5" text-anchor="start" fill="#111" stroke="#111">=</text>
<text x="391.70" y="34.50" font-size="8.5" text-anchor="start" fill="#111" stroke="#111">9.8</text>
<text x="407.70" y="34.50" font-size="9.3" text-anchor="start" fill="#111" stroke="#111">×</text>
<text x="416.00" y="34.50" font-size="8.5" text-anchor="start" fill="#111" stroke="#111">10</text>
<text x="424.50" y="30.80" font-size="6.4" text-anchor="start" fill="#111" stroke="#111">−10</text>
<text x="423.30" y="111.00" font-size="8.5" text-anchor="start" fill="#111" stroke="#111" font-style="italic">p</text>
<text x="430.30" y="111.00" font-size="8.5" text-anchor="start" fill="#111" stroke="#111">=</text>
<text x="438.30" y="111.00" font-size="8.5" text-anchor="start" fill="#111" stroke="#111">9.6</text>
<text x="454.30" y="111.00" font-size="9.3" text-anchor="start" fill="#111" stroke="#111">×</text>
<text x="462.60" y="111.00" font-size="8.5" text-anchor="start" fill="#111" stroke="#111">10</text>
<text x="471.10" y="107.30" font-size="6.4" text-anchor="start" fill="#111" stroke="#111">−10</text>
<text x="438.40" y="127.00" font-size="8.5" text-anchor="start" fill="#111" stroke="#111" font-style="italic">p</text>
<text x="445.40" y="127.00" font-size="8.5" text-anchor="start" fill="#111" stroke="#111">=</text>
<text x="453.40" y="127.00" font-size="8.5" text-anchor="start" fill="#111" stroke="#111">9.6</text>
<text x="469.40" y="127.00" font-size="9.3" text-anchor="start" fill="#111" stroke="#111">×</text>
<text x="477.70" y="127.00" font-size="8.5" text-anchor="start" fill="#111" stroke="#111">10</text>
<text x="486.20" y="123.30" font-size="6.4" text-anchor="start" fill="#111" stroke="#111">−10</text>
<path d="M372.30 40.40 L375.25 44.10 L372.30 47.80 L369.35 44.10Z" fill="#000"/>
<circle cx="379.60" cy="52.40" r="2.75" fill="#000"/>
<rect x="384.80" y="146.30" width="4.6" height="4.6" fill="#000"/>
<path d="M445.60 148.60 L448.55 152.30 L445.60 156.00 L442.65 152.30Z" fill="#000"/>
<circle cx="452.90" cy="142.40" r="2.75" fill="#000"/>
<rect x="457.80" y="43.00" width="4.6" height="4.6" fill="#000"/>
<line x1="544.60" y1="21.30" x2="544.60" y2="158.50" stroke="#d2d2d2" stroke-width="0.9"/>
<line x1="544.60" y1="158.50" x2="685.00" y2="158.50" stroke="#d2d2d2" stroke-width="0.9"/>
<line x1="544.60" y1="21.50" x2="546.20" y2="21.50" stroke="#c8c8c8" stroke-width="0.8"/>
<text x="540.40" y="24.54" font-size="8.5" text-anchor="end" fill="#1e1e1e" stroke="#1e1e1e">1</text>
<line x1="544.60" y1="56.10" x2="546.20" y2="56.10" stroke="#c8c8c8" stroke-width="0.8"/>
<text x="540.40" y="59.14" font-size="8.5" text-anchor="end" fill="#1e1e1e" stroke="#1e1e1e">0.75</text>
<line x1="544.60" y1="90.60" x2="546.20" y2="90.60" stroke="#c8c8c8" stroke-width="0.8"/>
<text x="540.40" y="93.64" font-size="8.5" text-anchor="end" fill="#1e1e1e" stroke="#1e1e1e">0.5</text>
<line x1="544.60" y1="124.70" x2="546.20" y2="124.70" stroke="#c8c8c8" stroke-width="0.8"/>
<text x="540.40" y="127.74" font-size="8.5" text-anchor="end" fill="#1e1e1e" stroke="#1e1e1e">0.25</text>
<line x1="544.60" y1="158.70" x2="546.20" y2="158.70" stroke="#c8c8c8" stroke-width="0.8"/>
<text x="540.40" y="161.74" font-size="8.5" text-anchor="end" fill="#1e1e1e" stroke="#1e1e1e">0</text>
<text x="0" y="0" font-size="8.5" fill="#1e1e1e" stroke="#1e1e1e" text-anchor="middle" transform="translate(517.0,90.2) rotate(-90)">Proportion of time</text>
<text x="582.20" y="169.60" font-size="8.5" text-anchor="middle" fill="#ff1414" stroke="#ff1414">High risk</text>
<text x="660.90" y="169.60" font-size="8.5" text-anchor="middle" fill="#36557f" stroke="#36557f">Low risk</text>
<line x1="572.50" y1="136.00" x2="572.50" y2="158.00" stroke="#d6d6d6" stroke-width="0.9"/>
<line x1="579.80" y1="136.00" x2="579.80" y2="158.00" stroke="#d6d6d6" stroke-width="0.9"/>
<line x1="587.00" y1="136.00" x2="587.00" y2="158.00" stroke="#d6d6d6" stroke-width="0.9"/>
<line x1="642.80" y1="24.90" x2="642.80" y2="62.00" stroke="#d6d6d6" stroke-width="0.9"/>
<line x1="649.80" y1="20.60" x2="649.80" y2="55.70" stroke="#d6d6d6" stroke-width="0.9"/>
<line x1="656.80" y1="22.70" x2="656.80" y2="63.00" stroke="#d6d6d6" stroke-width="0.9"/>
<rect x="571.30" y="149.00" width="1.2" height="1.2" fill="#b0b0b0"/>
<rect x="571.86" y="152.63" width="1.2" height="1.2" fill="#b0b0b0"/>
<rect x="572.45" y="146.02" width="1.2" height="1.2" fill="#b0b0b0"/>
<rect x="571.42" y="142.93" width="1.2" height="1.2" fill="#b0b0b0"/>
<rect x="572.05" y="152.66" width="1.2" height="1.2" fill="#b0b0b0"/>
<rect x="571.42" y="135.37" width="1.2" height="1.2" fill="#b0b0b0"/>
<rect x="574.29" y="154.53" width="1.2" height="1.2" fill="#b0b0b0"/>
<rect x="572.11" y="141.97" width="1.2" height="1.2" fill="#b0b0b0"/>
<rect x="571.90" y="156.30" width="1.2" height="1.2" fill="#b0b0b0"/>
<rect x="571.66" y="153.20" width="1.2" height="1.2" fill="#b0b0b0"/>
<rect x="570.10" y="144.82" width="1.2" height="1.2" fill="#b0b0b0"/>
<rect x="571.99" y="145.55" width="1.2" height="1.2" fill="#b0b0b0"/>
<rect x="580.02" y="134.94" width="1.2" height="1.2" fill="#b0b0b0"/>
<rect x="580.10" y="137.17" width="1.2" height="1.2" fill="#b0b0b0"/>
<rect x="579.47" y="154.86" width="1.2" height="1.2" fill="#b0b0b0"/>
<rect x="577.91" y="141.75" width="1.2" height="1.2" fill="#b0b0b0"/>
<rect x="579.69" y="150.16" width="1.2" height="1.2" fill="#b0b0b0"/>
<rect x="581.23" y="135.51" width="1.2" height="1.2" fill="#b0b0b0"/>
<rect x="579.89" y="141.55" width="1.2" height="1.2" fill="#b0b0b0"/>
<rect x="577.71" y="147.80" width="1.2" height="1.2" fill="#b0b0b0"/>
<rect x="581.30" y="156.51" width="1.2" height="1.2" fill="#b0b0b0"/>
<rect x="579.32" y="148.48" width="1.2" height="1.2" fill="#b0b0b0"/>
<rect x="578.04" y="141.59" width="1.2" height="1.2" fill="#b0b0b0"/>
<rect x="580.55" y="149.37" width="1.2" height="1.2" fill="#b0b0b0"/>
<rect x="588.44" y="154.93" width="1.2" height="1.2" fill="#b0b0b0"/>
<rect x="585.65" y="144.15" width="1.2" height="1.2" fill="#b0b0b0"/>
<rect x="586.45" y="138.82" width="1.2" height="1.2" fill="#b0b0b0"/>
<rect x="586.30" y="144.87" width="1.2" height="1.2" fill="#b0b0b0"/>
<rect x="585.54" y="150.73" width="1.2" height="1.2" fill="#b0b0b0"/>
<rect x="586.26" y="151.29" width="1.2" height="1.2" fill="#b0b0b0"/>
<rect x="586.15" y="152.41" width="1.2" height="1.2" fill="#b0b0b0"/>
<rect x="586.56" y="148.68" width="1.2" height="1.2" fill="#b0b0b0"/>
<rect x="587.25" y="151.88" width="1.2" height="1.2" fill="#b0b0b0"/>
<rect x="586.16" y="149.59" width="1.2" height="1.2" fill="#b0b0b0"/>
<rect x="586.07" y="145.30" width="1.2" height="1.2" fill="#b0b0b0"/>
<rect x="586.79" y="144.69" width="1.2" height="1.2" fill="#b0b0b0"/>
<rect x="643.22" y="32.08" width="1.2" height="1.2" fill="#b0b0b0"/>
<rect x="643.10" y="57.96" width="1.2" height="1.2" fill="#b0b0b0"/>
<rect x="640.24" y="30.42" width="1.2" height="1.2" fill="#b0b0b0"/>
<rect x="643.19" y="62.99" width="1.2" height="1.2" fill="#b0b0b0"/>
<rect x="641.92" y="74.76" width="1.2" height="1.2" fill="#b0b0b0"/>
<rect x="641.51" y="73.18" width="1.2" height="1.2" fill="#b0b0b0"/>
<rect x="642.63" y="38.54" width="1.2" height="1.2" fill="#b0b0b0"/>
<rect x="643.02" y="62.71" width="1.2" height="1.2" fill="#b0b0b0"/>
<rect x="642.82" y="39.72" width="1.2" height="1.2" fill="#b0b0b0"/>
<rect x="641.85" y="41.85" width="1.2" height="1.2" fill="#b0b0b0"/>
<rect x="644.09" y="39.16" width="1.2" height="1.2" fill="#b0b0b0"/>
<rect x="642.91" y="27.54" width="1.2" height="1.2" fill="#b0b0b0"/>
<rect x="642.99" y="65.81" width="1.2" height="1.2" fill="#b0b0b0"/>
<rect x="644.56" y="36.52" width="1.2" height="1.2" fill="#b0b0b0"/>
<rect x="643.37" y="27.36" width="1.2" height="1.2" fill="#b0b0b0"/>
<rect x="642.19" y="29.98" width="1.2" height="1.2" fill="#b0b0b0"/>
<rect x="642.16" y="74.01" width="1.2" height="1.2" fill="#b0b0b0"/>
<rect x="641.54" y="75.26" width="1.2" height="1.2" fill="#b0b0b0"/>
<rect x="642.68" y="35.26" width="1.2" height="1.2" fill="#b0b0b0"/>
<rect x="642.44" y="56.53" width="1.2" height="1.2" fill="#b0b0b0"/>
<rect x="648.61" y="54.82" width="1.2" height="1.2" fill="#b0b0b0"/>
<rect x="647.83" y="46.13" width="1.2" height="1.2" fill="#b0b0b0"/>
<rect x="647.00" y="30.14" width="1.2" height="1.2" fill="#b0b0b0"/>
<rect x="648.85" y="44.12" width="1.2" height="1.2" fill="#b0b0b0"/>
<rect x="648.52" y="54.35" width="1.2" height="1.2" fill="#b0b0b0"/>
<rect x="649.26" y="45.65" width="1.2" height="1.2" fill="#b0b0b0"/>
<rect x="649.78" y="34.46" width="1.2" height="1.2" fill="#b0b0b0"/>
<rect x="649.14" y="60.27" width="1.2" height="1.2" fill="#b0b0b0"/>
<rect x="649.44" y="43.88" width="1.2" height="1.2" fill="#b0b0b0"/>
<rect x="649.05" y="26.16" width="1.2" height="1.2" fill="#b0b0b0"/>
<rect x="649.13" y="43.05" width="1.2" height="1.2" fill="#b0b0b0"/>
<rect x="649.23" y="56.16" width="1.2" height="1.2" fill="#b0b0b0"/>
<rect x="648.37" y="53.72" width="1.2" height="1.2" fill="#b0b0b0"/>
<rect x="648.70" y="42.90" width="1.2" height="1.2" fill="#b0b0b0"/>
<rect x="649.08" y="40.60" width="1.2" height="1.2" fill="#b0b0b0"/>
<rect x="649.17" y="53.69" width="1.2" height="1.2" fill="#b0b0b0"/>
<rect x="656.65" y="29.63" width="1.2" height="1.2" fill="#b0b0b0"/>
<rect x="656.38" y="55.33" width="1.2" height="1.2" fill="#b0b0b0"/>
<rect x="656.68" y="51.15" width="1.2" height="1.2" fill="#b0b0b0"/>
<rect x="656.20" y="63.32" width="1.2" height="1.2" fill="#b0b0b0"/>
<rect x="657.08" y="58.39" width="1.2" height="1.2" fill="#b0b0b0"/>
<rect x="657.57" y="21.70" width="1.2" height="1.2" fill="#b0b0b0"/>
<rect x="656.99" y="26.22" width="1.2" height="1.2" fill="#b0b0b0"/>
<rect x="656.67" y="63.45" width="1.2" height="1.2" fill="#b0b0b0"/>
<rect x="655.55" y="21.79" width="1.2" height="1.2" fill="#b0b0b0"/>
<rect x="657.04" y="44.86" width="1.2" height="1.2" fill="#b0b0b0"/>
<rect x="655.52" y="20.75" width="1.2" height="1.2" fill="#b0b0b0"/>
<rect x="656.38" y="57.12" width="1.2" height="1.2" fill="#b0b0b0"/>
<rect x="656.83" y="58.53" width="1.2" height="1.2" fill="#b0b0b0"/>
<rect x="654.76" y="31.67" width="1.2" height="1.2" fill="#b0b0b0"/>
<rect x="656.99" y="39.66" width="1.2" height="1.2" fill="#b0b0b0"/>
<rect x="656.23" y="23.77" width="1.2" height="1.2" fill="#b0b0b0"/>
<rect x="656.42" y="22.41" width="1.2" height="1.2" fill="#b0b0b0"/>
<rect x="656.03" y="55.55" width="1.2" height="1.2" fill="#b0b0b0"/>
<path d="M572.50 143.60 L575.45 147.30 L572.50 151.00 L569.55 147.30Z" fill="#000"/>
<circle cx="579.80" cy="146.30" r="2.75" fill="#000"/>
<rect x="584.70" y="146.10" width="4.6" height="4.6" fill="#000"/>
<path d="M642.80 42.40 L645.75 46.10 L642.80 49.80 L639.85 46.10Z" fill="#000"/>
<circle cx="649.80" cy="38.80" r="2.75" fill="#000"/>
<rect x="654.50" y="42.20" width="4.6" height="4.6" fill="#000"/>
<line x1="343.70" y1="187.50" x2="343.70" y2="326.00" stroke="#d2d2d2" stroke-width="0.9"/>
<line x1="343.70" y1="326.00" x2="483.60" y2="326.00" stroke="#d2d2d2" stroke-width="0.9"/>
<line x1="343.70" y1="188.60" x2="345.30" y2="188.60" stroke="#c8c8c8" stroke-width="0.8"/>
<text x="339.60" y="191.64" font-size="8.5" text-anchor="end" fill="#1e1e1e" stroke="#1e1e1e">1</text>
<line x1="343.70" y1="223.00" x2="345.30" y2="223.00" stroke="#c8c8c8" stroke-width="0.8"/>
<text x="339.60" y="226.04" font-size="8.5" text-anchor="end" fill="#1e1e1e" stroke="#1e1e1e">0.75</text>
<line x1="343.70" y1="257.50" x2="345.30" y2="257.50" stroke="#c8c8c8" stroke-width="0.8"/>
<text x="339.60" y="260.54" font-size="8.5" text-anchor="end" fill="#1e1e1e" stroke="#1e1e1e">0.5</text>
<line x1="343.70" y1="291.80" x2="345.30" y2="291.80" stroke="#c8c8c8" stroke-width="0.8"/>
<text x="339.60" y="294.84" font-size="8.5" text-anchor="end" fill="#1e1e1e" stroke="#1e1e1e">0.25</text>
<line x1="343.70" y1="326.20" x2="345.30" y2="326.20" stroke="#c8c8c8" stroke-width="0.8"/>
<text x="339.60" y="329.24" font-size="8.5" text-anchor="end" fill="#1e1e1e" stroke="#1e1e1e">0</text>
<text x="0" y="0" font-size="8.5" fill="#1e1e1e" stroke="#1e1e1e" text-anchor="middle" transform="translate(315.8,257.4) rotate(-90)">Performance product</text>
<line x1="366.70" y1="196.00" x2="366.70" y2="259.70" stroke="#c2c2c2" stroke-width="0.9"/>
<line x1="413.30" y1="214.60" x2="413.30" y2="250.10" stroke="#c2c2c2" stroke-width="0.9"/>
<rect x="368.30" y="200.30" width="1.4" height="1.4" fill="#b4b4b4"/>
<rect x="374.90" y="197.60" width="1.4" height="1.4" fill="#b4b4b4"/>
<rect x="354.40" y="208.50" width="1.4" height="1.4" fill="#b4b4b4"/>
<rect x="364.80" y="203.90" width="1.4" height="1.4" fill="#b4b4b4"/>
<rect x="366.70" y="209.90" width="1.4" height="1.4" fill="#b4b4b4"/>
<rect x="364.80" y="242.10" width="1.4" height="1.4" fill="#b4b4b4"/>
<rect x="366.70" y="248.90" width="1.4" height="1.4" fill="#b4b4b4"/>
<rect x="362.10" y="262.10" width="1.4" height="1.4" fill="#b4b4b4"/>
<rect x="370.80" y="264.80" width="1.4" height="1.4" fill="#b4b4b4"/>
<rect x="369.70" y="267.50" width="1.4" height="1.4" fill="#b4b4b4"/>
<rect x="367.00" y="272.20" width="1.4" height="1.4" fill="#b4b4b4"/>
<rect x="365.60" y="221.30" width="1.4" height="1.4" fill="#b4b4b4"/>
<rect x="366.50" y="235.30" width="1.4" height="1.4" fill="#b4b4b4"/>
<rect x="418.00" y="218.00" width="1.4" height="1.4" fill="#b4b4b4"/>
<rect x="410.70" y="221.10" width="1.4" height="1.4" fill="#b4b4b4"/>
<rect x="414.00" y="222.60" width="1.4" height="1.4" fill="#b4b4b4"/>
<rect x="425.00" y="225.90" width="1.4" height="1.4" fill="#b4b4b4"/>
<rect x="405.30" y="228.60" width="1.4" height="1.4" fill="#b4b4b4"/>
<rect x="419.00" y="230.40" width="1.4" height="1.4" fill="#b4b4b4"/>
<rect x="406.70" y="238.60" width="1.4" height="1.4" fill="#b4b4b4"/>
<rect x="406.20" y="243.60" width="1.4" height="1.4" fill="#b4b4b4"/>
<rect x="408.00" y="250.50" width="1.4" height="1.4" fill="#b4b4b4"/>
<rect x="419.30" y="253.60" width="1.4" height="1.4" fill="#b4b4b4"/>
<rect x="454.50" y="308.80" width="1.4" height="1.4" fill="#b4b4b4"/>
<rect x="455.70" y="308.90" width="1.4" height="1.4" fill="#b4b4b4"/>
<rect x="458.30" y="310.00" width="1.4" height="1.4" fill="#b4b4b4"/>
<rect x="455.90" y="314.20" width="1.4" height="1.4" fill="#b4b4b4"/>
<rect x="450.60" y="316.80" width="1.4" height="1.4" fill="#b4b4b4"/>
<rect x="469.90" y="315.10" width="1.4" height="1.4" fill="#b4b4b4"/>
<rect x="459.40" y="322.50" width="1.4" height="1.4" fill="#b4b4b4"/>
<rect x="456.50" y="325.30" width="1.4" height="1.4" fill="#b4b4b4"/>
<rect x="470.70" y="325.30" width="1.4" height="1.4" fill="#b4b4b4"/>
<line x1="460.50" y1="311.90" x2="460.50" y2="323.20" stroke="#cfcfcf" stroke-width="0.9"/>
<line x1="366.10" y1="194.50" x2="462.50" y2="194.50" stroke="#222" stroke-width="1.0"/>
<line x1="414.30" y1="210.40" x2="462.50" y2="210.40" stroke="#222" stroke-width="1.0"/>
<text x="369.40" y="190.10" font-size="8.5" text-anchor="start" fill="#111" stroke="#111" font-style="italic">p</text>
<text x="376.40" y="190.10" font-size="8.5" text-anchor="start" fill="#111" stroke="#111">=</text>
<text x="384.40" y="190.10" font-size="8.5" text-anchor="start" fill="#111" stroke="#111">1.0</text>
<text x="400.40" y="190.10" font-size="9.3" text-anchor="start" fill="#111" stroke="#111">×</text>
<text x="408.70" y="190.10" font-size="8.5" text-anchor="start" fill="#111" stroke="#111">10</text>
<text x="417.20" y="186.40" font-size="6.4" text-anchor="start" fill="#111" stroke="#111">−9</text>
<text x="416.70" y="205.60" font-size="8.5" text-anchor="start" fill="#111" stroke="#111" font-style="italic">p</text>
<text x="423.70" y="205.60" font-size="8.5" text-anchor="start" fill="#111" stroke="#111">=</text>
<text x="431.70" y="205.60" font-size="8.5" text-anchor="start" fill="#111" stroke="#111">1.1</text>
<text x="447.70" y="205.60" font-size="9.3" text-anchor="start" fill="#111" stroke="#111">×</text>
<text x="456.00" y="205.60" font-size="8.5" text-anchor="start" fill="#111" stroke="#111">10</text>
<text x="464.50" y="201.90" font-size="6.4" text-anchor="start" fill="#111" stroke="#111">−9</text>
<path d="M366.70 225.90 L369.65 229.60 L366.70 233.30 L363.75 229.60Z" fill="#000"/>
<circle cx="413.30" cy="232.40" r="2.75" fill="#000"/>
<rect x="458.20" y="315.70" width="4.6" height="4.6" fill="#000"/>
<rect x="555.7" y="211.2" width="106.9" height="68.0" fill="none" stroke="#444" stroke-width="0.9"/>
<path d="M564.10 219.80 L567.90 223.60 L564.10 227.40 L560.30 223.60Z" fill="#000"/>
<circle cx="564.10" cy="244.60" r="3.7" fill="#000"/>
<rect x="560.80" y="262.70" width="6.6" height="6.6" fill="#000"/>
<text x="572.10" y="227.00" font-size="8.5" text-anchor="start" fill="#1e1e1e" stroke="#1e1e1e">Method M1</text>
<text x="572.10" y="248.00" font-size="8.5" text-anchor="start" fill="#1e1e1e" stroke="#1e1e1e">Method M2</text>
<text x="572.10" y="269.00" font-size="8.5" text-anchor="start" fill="#1e1e1e" stroke="#1e1e1e">Random predictor</text>
</svg></body></html>
